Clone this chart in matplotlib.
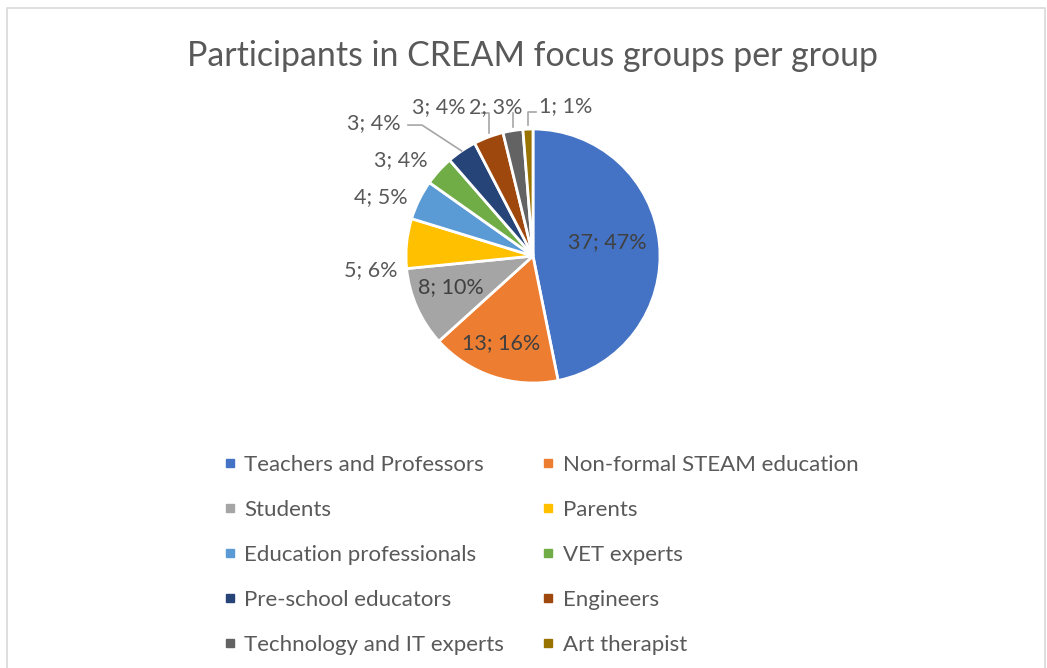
import numpy as np
import matplotlib
matplotlib.use("Agg")
import matplotlib.pyplot as plt
from matplotlib.lines import Line2D
from matplotlib.patches import Rectangle

categories = ["Teachers and Professors", "Non-formal STEAM education", "Students", "Parents",
              "Education professionals", "VET experts", "Pre-school educators", "Engineers",
              "Technology and IT experts", "Art therapist"]
values = [37, 13, 8, 5, 4, 3, 3, 3, 2, 1]
colors = ["#4472C4", "#ED7D31", "#A5A5A5", "#FFC000", "#5B9BD5", "#70AD47",
          "#264478", "#9E480E", "#636363", "#997300"]
title = "Participants in CREAM focus groups per group"

plt.rcParams['font.family'] = ['Lato', 'DejaVu Sans']

W, H = 1047, 668
fig = plt.figure(figsize=(W / 100, H / 100), dpi=100)
fig.patch.set_facecolor("white")

# outer chart frame
fig.add_artist(Rectangle((7 / W, -0.01), (1045 - 7) / W, (H - 8) / H + 0.01,
                         transform=fig.transFigure, fill=False, edgecolor="#D9D9D9", lw=1.2))

# pie axes: center (533,256) px, radius 127 px
cx, cy, R = 533, 256, 127
ax = fig.add_axes([(cx - R) / W, (H - cy - R) / H, 2 * R / W, 2 * R / H])
wedges, _ = ax.pie(values, colors=colors, startangle=90, counterclock=False,
                   wedgeprops=dict(edgecolor="white", linewidth=2))
for w in wedges:
    w.set_clip_on(False)
ax.set_xlim(-1, 1)
ax.set_ylim(-1, 1)
ax.set_aspect("equal")
ax.axis("off")

total = sum(values)
labels = [f"{v}; {round(v / total * 100):.0f}%" for v in values]

# label layout positions (in pie-radius units) and text colour
label_pos = [(0.583, 0.110), (-0.252, -0.685), (-0.646, -0.244), (-1.276, -0.110),
             (-1.197, 0.465), (-1.039, 0.756), (-1.252, 1.047), (-0.740, 1.173),
             (-0.295, 1.173), (0.260, 1.181)]
inside = [True, True, True] + [False] * 7
for lab, (lx, ly), ins in zip(labels, label_pos, inside):
    ax.text(lx, ly, lab, ha="center", va="center", fontsize=15.5,
            color="#404040" if ins else "#595959")

# leader lines
mids = []
for w in wedges:
    mids.append(np.deg2rad((w.theta1 + w.theta2) / 2))
lc = "#A6A6A6"
# Pre-school educators
m = mids[6]
ax.plot([np.cos(m) * 1.0, -0.874, -0.984], [np.sin(m) * 1.0, 1.031, 1.031],
        color=lc, lw=1.2, clip_on=False)
# Engineers
m = mids[7]
ax.plot([np.cos(m) * 1.0, np.cos(m) * 1.0, -0.40], [np.sin(m) * 1.03, 1.126, 1.126],
        color=lc, lw=1.2, clip_on=False)
# Technology
m = mids[8]
ax.plot([np.cos(m), np.cos(m)], [np.sin(m) * 1.03, 1.126], color=lc, lw=1.2, clip_on=False)
# Art therapist
m = mids[9]
ax.plot([np.cos(m), np.cos(m), 0.02], [np.sin(m) * 1.03, 1.134, 1.134],
        color=lc, lw=1.2, clip_on=False)

# title
fig.text(533 / W, 1 - 56 / H, title, ha="center", va="center", fontsize=24.4, color="#595959")

# legend (row-major order as in the reference)
order = [0, 2, 4, 6, 8, 1, 3, 5, 7, 9]
handles = [Line2D([], [], marker="s", linestyle="none", markersize=6,
                  markerfacecolor=colors[i], markeredgecolor=colors[i]) for i in order]
leg = fig.legend(handles, [categories[i] for i in order], ncol=2,
                 loc="upper left", bbox_to_anchor=(224 / W, 1 - 455 / H),
                 frameon=False, fontsize=16, labelcolor="#595959",
                 handlelength=0.5, handletextpad=0.4, columnspacing=1.75,
                 labelspacing=1.12, borderpad=0, borderaxespad=0)

fig.savefig("out.png", dpi=100)
